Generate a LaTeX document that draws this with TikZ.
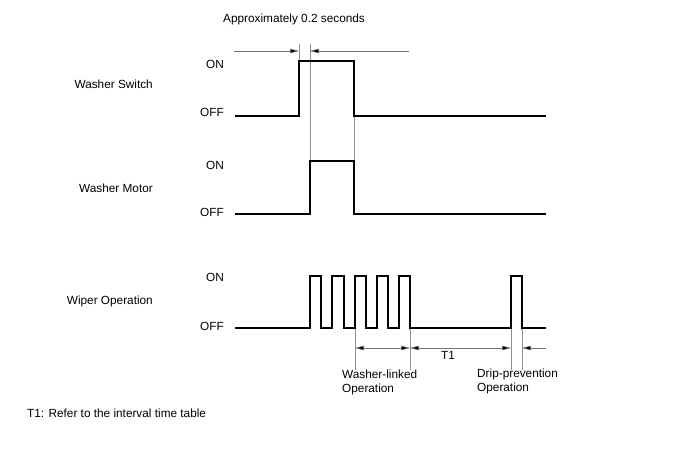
\documentclass[tikz,border=0pt]{standalone}
\usepackage{fontspec}
\setmainfont{Liberation Sans}
\usetikzlibrary{arrows.meta}
\begin{document}
\begin{tikzpicture}[x=1pt,y=-1pt,
  sig/.style={line width=1.5pt, line join=miter},
  thin/.style={line width=0.6pt, draw=black!45},
  tip/.tip={Triangle[length=9pt,width=4.5pt,fill=black]},
  dim/.style={line width=0.6pt, draw=black!55, -tip},
  dimboth/.style={line width=0.6pt, draw=black!55, tip-tip},
  lbl/.style={font=\fontsize{11.8}{14}\selectfont, inner sep=0pt},
  lvl/.style={lbl, anchor=east}]
\useasboundingbox (0,0) rectangle (688,463);
% labels
\node[lbl, anchor=west] (approx) at (223,19) {Approximately 0.2 seconds};
\node[lbl, anchor=east] (ws) at (153,84) {Washer Switch};
\node[lbl, anchor=east] (wm) at (153,188) {Washer Motor};
\node[lbl, anchor=east] (wo) at (153,301) {Wiper Operation};
\node[lvl] (on1) at (224,64) {ON};
\node[lvl] (off1) at (224,112) {OFF};
\node[lvl] (on2) at (224,165) {ON};
\node[lvl] (off2) at (224,212) {OFF};
\node[lvl] (on3) at (224,277) {ON};
\node[lvl] (off3) at (224,326) {OFF};
\node[lbl, anchor=west] (foot) at (27,413) {T1: Refer to the interval time table};
\node[lbl] (t1) at (448,355) {T1};
\node[lbl, anchor=north west, align=left, font=\fontsize{11.8}{14}\selectfont] (wl) at (342,370) {Washer-linked\\Operation};
\node[lbl, anchor=north west, align=left, font=\fontsize{11.8}{14}\selectfont] (dp) at (477,369) {Drip-prevention\\Operation};
% thin guide lines
\draw[thin] (299,44) -- (299,61);
\draw[thin] (310,44) -- (310,161);
\draw[thin] (354,116) -- (354,161);
\draw[thin] (355,328) -- (355,370);
\draw[thin] (410,328) -- (410,370);
\draw[thin] (511,328) -- (511,370);
\draw[thin] (522,328) -- (522,370);
% signals
\draw[sig] (235,116) -- (299,116) -- (299,61) -- (354,61) -- (354,116) -- (546,116);
\draw[sig] (235,214) -- (310,214) -- (310,161) -- (354,161) -- (354,214) -- (546,214);
\draw[sig] (235,328) -- (310,328) -- (310,276) -- (321,276) -- (321,328)
  -- (332,328) -- (332,276) -- (344,276) -- (344,328)
  -- (355,328) -- (355,276) -- (366,276) -- (366,328)
  -- (377,328) -- (377,276) -- (388,276) -- (388,328)
  -- (399,328) -- (399,276) -- (410,276) -- (410,328)
  -- (511,328) -- (511,276) -- (522,276) -- (522,328) -- (546,328);
% dimension arrows
\coordinate (a0) at (234,51);
\coordinate (a1) at (299,51);
\coordinate (a2) at (310,51);
\coordinate (a3) at (409,51);
\draw[dim] (a0) -- (a1);
\draw[dim] (a3) -- (a2);
\coordinate (b0) at (355,348);
\coordinate (b1) at (410,348);
\coordinate (b2) at (511,348);
\coordinate (b3) at (522,348);
\coordinate (b4) at (546,348);
\draw[dimboth] (b0) -- (b1);
\draw[dimboth] (b1) -- (b2);
\draw[dim] (b4) -- (b3);
\end{tikzpicture}
\end{document}
